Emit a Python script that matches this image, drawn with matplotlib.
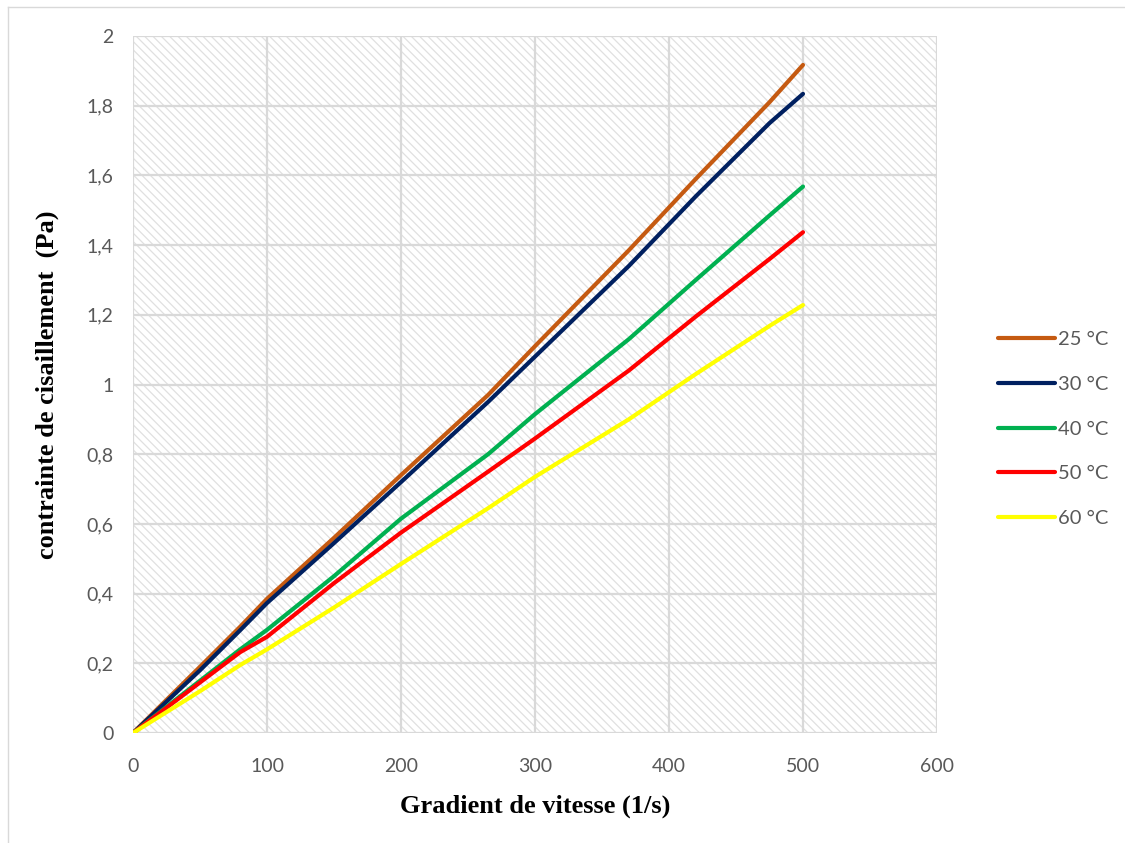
import matplotlib
matplotlib.use("Agg")
import matplotlib.pyplot as plt
from matplotlib.patches import Rectangle
from matplotlib.lines import Line2D
from matplotlib.ticker import FuncFormatter

# Data
shear_rate = [0, 50, 80, 100, 150, 200, 265, 300, 370, 420, 475, 500]
stress_25 = [0, 0.19, 0.305, 0.385, 0.56, 0.74, 0.97, 1.11, 1.385, 1.59, 1.81, 1.917]
stress_30 = [0, 0.18, 0.295, 0.373, 0.545, 0.72, 0.95, 1.08, 1.34, 1.54, 1.75, 1.834]
stress_40 = [0, 0.15, 0.24, 0.296, 0.45, 0.615, 0.80, 0.915, 1.13, 1.30, 1.485, 1.568]
stress_50 = [0, 0.145, 0.232, 0.276, 0.43, 0.575, 0.75, 0.845, 1.04, 1.195, 1.36, 1.437]
stress_60 = [0, 0.12, 0.195, 0.24, 0.36, 0.485, 0.645, 0.735, 0.90, 1.03, 1.168, 1.228]
labels = ["25 °C", "30 °C", "40 °C", "50 °C", "60 °C"]
colors = ["#C55A11", "#002060", "#00B050", "#FF0000", "#FFFF00"]
x_ticks = [0, 100, 200, 300, 400, 500, 600]
y_ticks = [0, 0.2, 0.4, 0.6, 0.8, 1.0, 1.2, 1.4, 1.6, 1.8, 2.0]

plt.rcParams['hatch.color'] = '#e0e0e0'
plt.rcParams['hatch.linewidth'] = 0.9

fig = plt.figure(figsize=(11.25, 8.43), dpi=100)
ax = fig.add_axes([133/1125, 110/843, (937-133)/1125, (733-36)/843])

# hatched background
ax.add_patch(Rectangle((0, 0), 1, 1, transform=ax.transAxes, facecolor='white',
                       edgecolor='#e0e0e0', hatch='\\\\\\\\', linewidth=0, zorder=0))
ax.set_xlim(0, 600)
ax.set_ylim(0, 2)
ax.set_xticks(x_ticks)
ax.set_yticks(y_ticks)
ax.grid(True, color='#d9d9d9', linewidth=1.6, zorder=1)
ax.set_axisbelow(True)
for s in ax.spines.values():
    s.set_visible(False)

def yfmt(v, pos):
    s = ('%.1f' % v).rstrip('0').rstrip('.')
    return s.replace('.', ',')
ax.yaxis.set_major_formatter(FuncFormatter(yfmt))
ax.tick_params(axis='both', length=0, labelcolor='#595959', labelsize=14)
ax.tick_params(axis='x', pad=18)
ax.tick_params(axis='y', pad=14)
for lab in ax.get_xticklabels() + ax.get_yticklabels():
    lab.set_fontfamily('Lato')

series = [stress_25, stress_30, stress_40, stress_50, stress_60]
for ys, c, l in zip(series, colors, labels):
    ax.plot(shear_rate, ys, color=c, lw=3, label=l, solid_capstyle='round',
            solid_joinstyle='round', zorder=3)

ax.set_xlabel("Gradient de vitesse (1/s)", fontfamily='Liberation Serif',
              fontweight='bold', fontsize=19, labelpad=14)
ax.set_ylabel("contrainte de cisaillement  (Pa)", fontfamily='Liberation Serif',
              fontweight='bold', fontsize=19, labelpad=20)

leg = fig.legend(loc='center left', bbox_to_anchor=(980/1125, 1 - 429/843),
                 frameon=False, prop={'family': 'Lato', 'size': 14.5},
                 handlelength=2.8, handletextpad=0.15, labelspacing=1.38)
for t in leg.get_texts():
    t.set_color('#595959')

# chart area border (top and left)
fig.add_artist(Line2D([8/1125, 1], [1 - 7/843, 1 - 7/843], transform=fig.transFigure,
                      color='#d9d9d9', lw=1))
fig.add_artist(Line2D([8/1125, 8/1125], [0, 1 - 7/843], transform=fig.transFigure,
                      color='#d9d9d9', lw=1))

fig.savefig("out.png", dpi=100)
